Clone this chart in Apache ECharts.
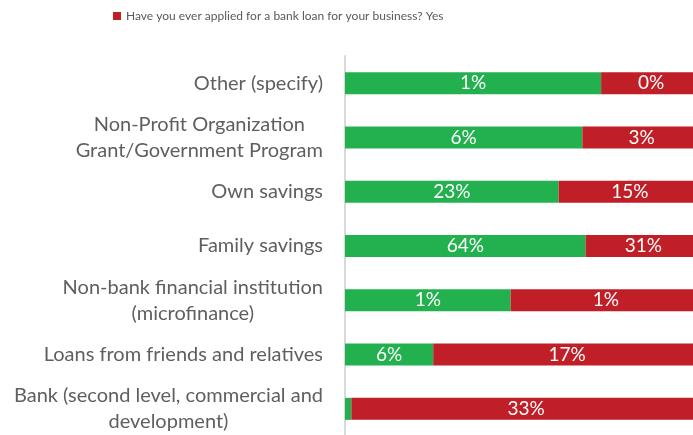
<!DOCTYPE html>
<html>
<head>
<meta charset="utf-8">
<script src="https://cdn.jsdelivr.net/npm/echarts@6/dist/echarts.min.js"></script>
<style>
  html, body { margin: 0; padding: 0; background: #fff; }
  #chart { width: 693px; height: 435px; }
</style>
</head>
<body>
<div id="chart"></div>
<script>
// Sources of financing, top to bottom
const categories = [
  'Other (specify)',
  'Non-Profit Organization\nGrant/Government Program',
  'Own savings',
  'Family savings',
  'Non-bank financial institution\n(microfinance)',
  'Loans from friends and relatives',
  'Bank (second level, commercial and\ndevelopment)'
];

// Share of respondents (%) in each group of "Have you ever applied for a bank loan?"
const noValues  = [1.0, 6.0, 22.8, 64.2, 0.8, 5.6, 0.6];
const yesValues = [0.39, 3.0, 15.2, 30.8, 0.92, 17.0, 32.9];

const seriesNames = [
  'Have you ever applied for a bank loan for your business? No',
  'Have you ever applied for a bank loan for your business? Yes'
];

// Each bar is stacked to 100%: the segment length is the group's share of the row total
const totals = noValues.map((v, i) => v + yesValues[i]);
const noShare  = noValues.map((v, i) => ({ value: v / totals[i], raw: v }));
const yesShare = yesValues.map((v, i) => ({ value: v / totals[i], raw: v }));

const labelFont = 'Lato, "Open Sans", sans-serif';

function segLabel(p) {
  if (p.data.value < 0.05) return '';
  return Math.round(p.data.raw) + '%';
}

const chart = echarts.init(document.getElementById('chart'), null, { renderer: 'canvas' });
chart.setOption({
  animation: false,
  legend: {
    data: [seriesNames[1]],
    top: 5,
    left: 108,
    itemWidth: 8,
    itemHeight: 8,
    itemGap: 4,
    icon: 'rect',
    textStyle: { color: '#595959', fontSize: 12, fontFamily: labelFont }
  },
  grid: {
    left: 345, top: 56, width: 356, height: 380,
    containLabel: false,
    outerBoundsMode: 'none'
  },
  xAxis: {
    type: 'value',
    min: 0,
    max: 1,
    show: false
  },
  yAxis: {
    type: 'category',
    inverse: true,
    data: categories,
    axisLine: { show: true, lineStyle: { color: '#d9d9d9', width: 2 } },
    axisTick: { show: false },
    axisLabel: {
      margin: 22,
      formatter: v => '{c|' + v.split('\n').join('}\n{c|') + '}',
      rich: {
        c: {
          align: 'center',
          color: '#5f5f5f',
          fontSize: 20,
          lineHeight: 26,
          fontFamily: labelFont
        }
      }
    }
  },
  series: [
    {
      name: seriesNames[0],
      type: 'bar',
      stack: 'total',
      barWidth: 22,
      itemStyle: { color: '#23B14F' },
      label: {
        show: true,
        position: 'inside',
        color: '#ffffff',
        fontSize: 19,
        fontFamily: labelFont,
        formatter: segLabel
      },
      data: noShare
    },
    {
      name: seriesNames[1],
      type: 'bar',
      stack: 'total',
      barWidth: 22,
      itemStyle: { color: '#C01F27' },
      label: {
        show: true,
        position: 'inside',
        color: '#ffffff',
        fontSize: 19,
        fontFamily: labelFont,
        formatter: segLabel
      },
      data: yesShare
    }
  ]
});
</script>
</body>
</html>
